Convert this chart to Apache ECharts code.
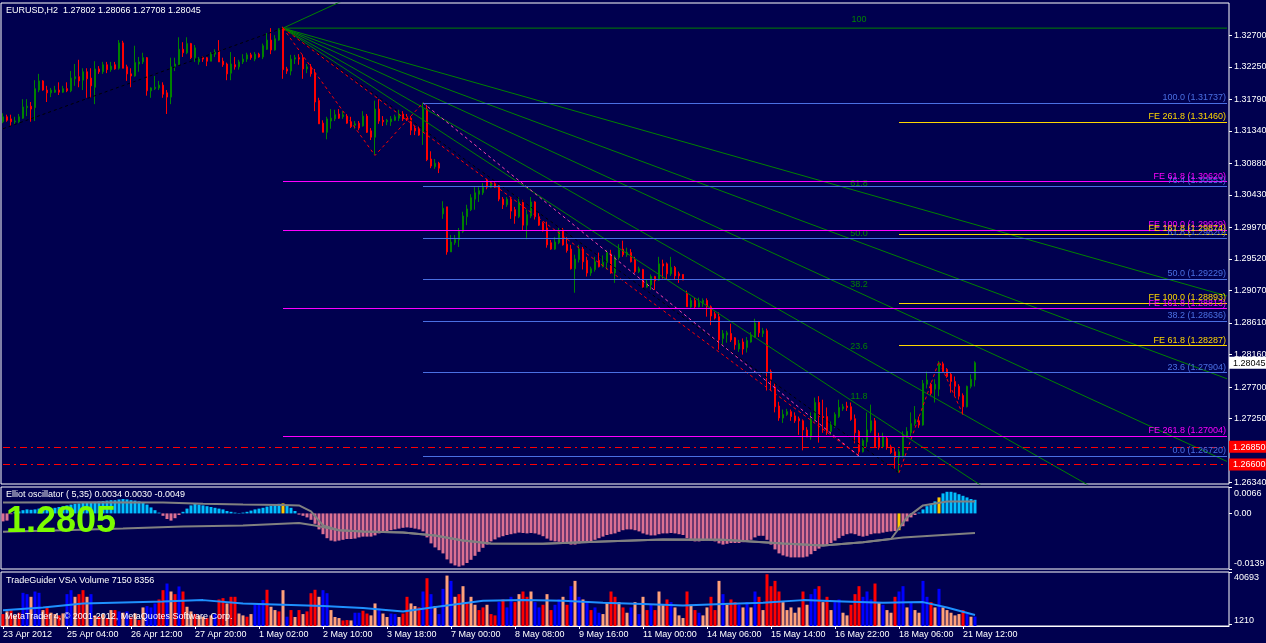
<!DOCTYPE html>
<html><head><meta charset="utf-8">
<script src="https://cdn.jsdelivr.net/npm/echarts@6/dist/echarts.min.js"></script>
<style>html,body{margin:0;padding:0;background:#00004f;}#c{width:1266px;height:643px;}</style>
</head><body><div id="c"></div>
<script>
const dateTicks = ['23 Apr 2012','25 Apr 04:00','26 Apr 12:00','27 Apr 20:00','1 May 02:00','2 May 10:00','3 May 18:00','7 May 00:00','8 May 08:00','9 May 16:00','11 May 00:00','14 May 06:00','15 May 14:00','16 May 22:00','18 May 06:00','21 May 12:00'];
const priceTicks = [1.32700,1.32250,1.31790,1.31340,1.30880,1.30430,1.29970,1.29520,1.29070,1.28610,1.28160,1.27700,1.27250,1.26340];
// [open, close, low, high]
const candles = [
[1.3147,1.3154,1.3145,1.3159],[1.3154,1.3149,1.3147,1.3157],[1.3151,1.3147,1.3141,1.3157],[1.3147,1.3148,1.3144,1.3154],[1.3147,1.3154,1.3145,1.3158],
[1.3152,1.3168,1.3151,1.3179],[1.3167,1.3169,1.3155,1.3179],[1.3169,1.3165,1.3147,1.3175],[1.3167,1.3194,1.3148,1.3206],[1.3192,1.3205,1.3189,1.3215],
[1.3205,1.3192,1.3191,1.3206],[1.3192,1.3188,1.3175,1.3198],[1.3188,1.3192,1.3182,1.3195],[1.3189,1.3192,1.3188,1.3198],[1.3192,1.3189,1.3185,1.3203],
[1.3189,1.3194,1.3188,1.3198],[1.3194,1.3191,1.3189,1.3203],[1.3191,1.3209,1.3189,1.3219],[1.3208,1.3211,1.3198,1.3229],[1.3211,1.3205,1.3196,1.3235],
[1.3206,1.3218,1.3192,1.3223],[1.3218,1.3208,1.3181,1.3223],[1.3209,1.3198,1.3181,1.3223],[1.3196,1.3222,1.3172,1.3233],[1.3222,1.3218,1.3215,1.3226],
[1.3218,1.3228,1.3215,1.3232],[1.3228,1.3221,1.3216,1.3232],[1.3221,1.3226,1.3218,1.3232],[1.3228,1.3222,1.3221,1.3232],[1.3223,1.3259,1.3221,1.3263],
[1.3259,1.3223,1.3223,1.3262],[1.3225,1.3215,1.3205,1.3228],[1.3215,1.3212,1.3196,1.3223],[1.3212,1.3231,1.3211,1.3255],[1.3229,1.3232,1.3218,1.3239],
[1.3232,1.3238,1.3229,1.3245],[1.3238,1.3191,1.3184,1.3239],[1.3191,1.3195,1.3181,1.3196],[1.3194,1.3196,1.3192,1.3212],[1.3195,1.3199,1.3192,1.3205],
[1.3199,1.3186,1.3181,1.3203],[1.3188,1.3182,1.3158,1.3192],[1.3182,1.3225,1.3172,1.3238],[1.3225,1.3229,1.3219,1.3238],[1.3228,1.3250,1.3226,1.3267],
[1.3250,1.3245,1.3239,1.3260],[1.3245,1.3258,1.3243,1.3267],[1.3258,1.3238,1.3236,1.3259],[1.3238,1.3252,1.3232,1.3256],[1.3232,1.3236,1.3228,1.3239],
[1.3238,1.3236,1.3232,1.3240],[1.3238,1.3233,1.3226,1.3239],[1.3233,1.3243,1.3233,1.3246],[1.3243,1.3246,1.3239,1.3250],[1.3248,1.3232,1.3232,1.3263],
[1.3233,1.3228,1.3225,1.3238],[1.3229,1.3215,1.3206,1.3231],[1.3216,1.3229,1.3206,1.3246],[1.3228,1.3225,1.3221,1.3239],[1.3225,1.3232,1.3221,1.3235],
[1.3232,1.3236,1.3229,1.3243],[1.3236,1.3242,1.3232,1.3245],[1.3242,1.3238,1.3235,1.3245],[1.3236,1.3243,1.3233,1.3246],[1.3243,1.3239,1.3238,1.3245],
[1.3239,1.3255,1.3236,1.3258],[1.3250,1.3263,1.3249,1.3273],[1.3263,1.3249,1.3243,1.3280],[1.3249,1.3265,1.3248,1.3270],[1.3263,1.3279,1.3262,1.3280],
[1.3280,1.3221,1.3208,1.3282],[1.3222,1.3219,1.3215,1.3225],[1.3219,1.3236,1.3213,1.3242],[1.3236,1.3238,1.3229,1.3242],[1.3238,1.3236,1.3228,1.3243],
[1.3238,1.3222,1.3208,1.3242],[1.3222,1.3225,1.3216,1.3229],[1.3225,1.3215,1.3211,1.3229],[1.3216,1.3175,1.3162,1.3222],[1.3177,1.3144,1.3144,1.3181],
[1.3145,1.3132,1.3132,1.3149],[1.3132,1.3151,1.3122,1.3154],[1.3148,1.3152,1.3137,1.3165],[1.3151,1.3157,1.3148,1.3164],[1.3158,1.3152,1.3151,1.3165],
[1.3154,1.3157,1.3151,1.3162],[1.3155,1.3145,1.3144,1.3158],[1.3147,1.3140,1.3138,1.3154],[1.3142,1.3144,1.3137,1.3148],[1.3145,1.3138,1.3135,1.3148],
[1.3141,1.3155,1.3140,1.3162],[1.3155,1.3132,1.3131,1.3158],[1.3134,1.3125,1.3121,1.3138],[1.3125,1.3165,1.3100,1.3177],[1.3165,1.3148,1.3144,1.3179],
[1.3149,1.3147,1.3141,1.3155],[1.3147,1.3149,1.3142,1.3151],[1.3147,1.3151,1.3141,1.3155],[1.3149,1.3154,1.3148,1.3157],[1.3152,1.3158,1.3148,1.3164],
[1.3158,1.3151,1.3148,1.3162],[1.3154,1.3151,1.3148,1.3158],[1.3152,1.3135,1.3128,1.3155],[1.3138,1.3134,1.3128,1.3141],[1.3137,1.3128,1.3127,1.3140],
[1.3132,1.3165,1.3114,1.3174],[1.3165,1.3093,1.3091,1.3171],[1.3094,1.3084,1.3081,1.3105],[1.3083,1.3088,1.3080,1.3094],[1.3088,1.3081,1.3074,1.3090],
[1.3016,1.3024,1.3009,1.3034],[1.3026,1.2962,1.2958,1.3026],[1.2962,1.2976,1.2962,1.2986],[1.2975,1.2980,1.2972,1.2986],[1.2979,1.2991,1.2969,1.2996],
[1.2991,1.3013,1.2989,1.3019],[1.3012,1.3023,1.3000,1.3029],[1.3022,1.3039,1.3020,1.3044],[1.3037,1.3046,1.3022,1.3054],[1.3044,1.3049,1.3033,1.3054],
[1.3046,1.3054,1.3043,1.3060],[1.3064,1.3054,1.3051,1.3066],[1.3054,1.3060,1.3053,1.3061],[1.3059,1.3054,1.3053,1.3061],[1.3056,1.3037,1.3034,1.3057],
[1.3037,1.3029,1.3023,1.3040],[1.3029,1.3037,1.3026,1.3040],[1.3037,1.3020,1.3009,1.3040],[1.3022,1.3013,1.3002,1.3026],[1.3012,1.3033,1.3010,1.3040],
[1.3033,1.3000,1.2993,1.3036],[1.3000,1.3015,1.2980,1.3022],[1.3013,1.3033,1.3010,1.3040],[1.3033,1.3012,1.3008,1.3034],[1.3012,1.3000,1.2999,1.3017],
[1.3003,1.2992,1.2991,1.3005],[1.2996,1.2972,1.2968,1.3005],[1.2975,1.2966,1.2965,1.2979],[1.2966,1.2976,1.2965,1.2983],[1.2975,1.2991,1.2973,1.2996],
[1.2993,1.2972,1.2971,1.2996],[1.2973,1.2964,1.2961,1.2983],[1.2966,1.2938,1.2937,1.2972],[1.2938,1.2952,1.2904,1.2958],[1.2951,1.2966,1.2947,1.2972],
[1.2966,1.2948,1.2937,1.2969],[1.2950,1.2932,1.2927,1.2955],[1.2932,1.2938,1.2928,1.2941],[1.2937,1.2948,1.2934,1.2955],[1.2950,1.2941,1.2940,1.2961],
[1.2941,1.2947,1.2940,1.2957],[1.2947,1.2961,1.2937,1.2965],[1.2959,1.2932,1.2931,1.2965],[1.2932,1.2954,1.2918,1.2957],[1.2954,1.2965,1.2951,1.2973],
[1.2966,1.2958,1.2955,1.2978],[1.2958,1.2961,1.2955,1.2968],[1.2961,1.2948,1.2947,1.2966],[1.2951,1.2934,1.2932,1.2955],[1.2934,1.2938,1.2932,1.2941],
[1.2937,1.2912,1.2911,1.2938],[1.2912,1.2917,1.2911,1.2922],[1.2915,1.2927,1.2908,1.2930],[1.2927,1.2921,1.2908,1.2928],[1.2922,1.2945,1.2921,1.2955],
[1.2945,1.2942,1.2924,1.2951],[1.2945,1.2931,1.2922,1.2947],[1.2931,1.2940,1.2928,1.2955],[1.2940,1.2928,1.2922,1.2942],[1.2931,1.2928,1.2918,1.2934],
[1.2930,1.2922,1.2922,1.2930],[1.2903,1.2884,1.2884,1.2907],[1.2884,1.2893,1.2881,1.2897],[1.2893,1.2884,1.2881,1.2897],[1.2884,1.2890,1.2883,1.2897],
[1.2890,1.2893,1.2884,1.2896],[1.2893,1.2884,1.2870,1.2896],[1.2884,1.2871,1.2858,1.2886],[1.2874,1.2868,1.2866,1.2877],[1.2870,1.2837,1.2823,1.2876],
[1.2839,1.2846,1.2830,1.2851],[1.2844,1.2847,1.2833,1.2850],[1.2846,1.2837,1.2834,1.2860],[1.2840,1.2830,1.2823,1.2841],[1.2824,1.2832,1.2820,1.2837],
[1.2834,1.2824,1.2816,1.2839],[1.2826,1.2836,1.2819,1.2841],[1.2834,1.2844,1.2833,1.2848],[1.2841,1.2861,1.2840,1.2867],[1.2863,1.2847,1.2841,1.2864],
[1.2846,1.2850,1.2841,1.2854],[1.2850,1.2792,1.2765,1.2853],[1.2792,1.2781,1.2765,1.2795],[1.2770,1.2742,1.2734,1.2775],[1.2743,1.2726,1.2722,1.2749],
[1.2726,1.2731,1.2719,1.2738],[1.2731,1.2735,1.2729,1.2739],[1.2735,1.2728,1.2722,1.2738],[1.2729,1.2722,1.2719,1.2734],[1.2725,1.2722,1.2702,1.2728],
[1.2722,1.2709,1.2680,1.2724],[1.2709,1.2699,1.2699,1.2713],[1.2699,1.2724,1.2695,1.2734],[1.2724,1.2748,1.2721,1.2755],[1.2748,1.2728,1.2691,1.2757],
[1.2728,1.2726,1.2705,1.2752],[1.2728,1.2707,1.2702,1.2741],[1.2707,1.2716,1.2702,1.2721],[1.2715,1.2731,1.2712,1.2734],[1.2728,1.2741,1.2726,1.2752],
[1.2739,1.2742,1.2736,1.2746],[1.2743,1.2741,1.2736,1.2749],[1.2742,1.2724,1.2722,1.2748],[1.2725,1.2705,1.2690,1.2731],[1.2707,1.2678,1.2674,1.2709],
[1.2678,1.2694,1.2677,1.2697],[1.2692,1.2709,1.2685,1.2734],[1.2708,1.2722,1.2705,1.2745],[1.2722,1.2685,1.2684,1.2726],[1.2698,1.2684,1.2681,1.2705],
[1.2685,1.2699,1.2683,1.2705],[1.2697,1.2685,1.2681,1.2699],[1.2685,1.2677,1.2675,1.2688],[1.2678,1.2670,1.2654,1.2684],[1.2670,1.2678,1.2648,1.2682],
[1.2671,1.2701,1.2670,1.2707],[1.2699,1.2707,1.2698,1.2713],[1.2705,1.2718,1.2699,1.2734],[1.2718,1.2724,1.2715,1.2743],[1.2722,1.2716,1.2712,1.2728],
[1.2716,1.2775,1.2715,1.2780],[1.2774,1.2780,1.2768,1.2792],[1.2774,1.2761,1.2757,1.2776],[1.2767,1.2774,1.2748,1.2781],[1.2767,1.2803,1.2757,1.2807],
[1.2803,1.2792,1.2790,1.2806],[1.2795,1.2785,1.2783,1.2797],[1.2788,1.2778,1.2762,1.2790],[1.2778,1.2771,1.2757,1.2785],[1.2771,1.2757,1.2752,1.2774],
[1.2758,1.2742,1.2731,1.2761],[1.2742,1.2771,1.2741,1.2772],[1.2771,1.2781,1.2768,1.2788],[1.27802,1.28045,1.27708,1.28066]
];
// Fibonacci retracement (blue), drawn from bar 105
const retrLevels = ['100.0','76.4','61.8','50.0','38.2','23.6','0.0'];
const retrPrices = [1.31737,1.30553,1.29820,1.29229,1.28636,1.27904,1.26720];
// Fibonacci expansion 1 (magenta), from bar 70
const fe1Levels = ['61.8','100.0','161.8','261.8'];
const fe1Prices = [1.30620,1.29929,1.28813,1.27004];
// Fibonacci expansion 2 (gold), from bar 224
const fe2Levels = ['261.8','161.8','100.0','61.8'];
const fe2Prices = [1.31460,1.29874,1.28893,1.28287];
// Fibonacci fan (green)
const fanLevels = [161.8,100,61.8,50.0,38.2,23.6,11.8];
const fanLabels = ['161.8','100','61.8','50.0','38.2','23.6','11.8'];
const fanA = [70,1.32800], fanB = [214,1.26720];
// dashed helper lines [barIndex, price]
const blackUp = [[0,1.3137],[70,1.3280]];
const blackDown = [[70,1.3280],[224,1.2648]];
const fanDiag = [[70,1.3280],[214,1.2672]];
const fe1Zig = [[70,1.3280],[93,1.30991],[105,1.31738]];
const retrDiag = [[105,1.31738],[214,1.26720]];
const fe2Zig = [[224,1.2648],[234,1.28066],[240,1.27307]];
const hLines = [1.26850,1.26600];
const lastPrice = 1.28045;

// Elliott oscillator histogram (one value per bar)
const oscValues = [
-0.0020,-0.0018,-0.0002,0.0003,0.0005,0.0008,0.0010,0.0009,0.0010,0.0012,
0.0013,0.0012,0.0012,0.0014,0.0016,0.0018,0.0020,0.0022,0.0024,0.0025,
0.0026,0.0026,0.0027,0.0029,0.0030,0.0031,0.0032,0.0033,0.0033,0.0035,
0.0036,0.0035,0.0033,0.0032,0.0030,0.0027,0.0022,0.0015,0.0008,0.0002,
-0.0006,-0.0014,-0.0018,-0.0012,-0.0004,0.0004,0.0012,0.0020,0.0024,0.0022,
0.0020,0.0018,0.0016,0.0014,0.0012,0.0010,0.0006,0.0004,0.0002,0.0001,
0.0002,0.0004,0.0007,0.0010,0.0012,0.0014,0.0017,0.0019,0.0021,0.0024,
0.0025,0.0020,0.0014,0.0006,-0.0003,-0.0006,-0.0010,-0.0016,-0.0026,-0.0040,
-0.0052,-0.0062,-0.0068,-0.0070,-0.0068,-0.0066,-0.0064,-0.0064,-0.0063,-0.0060,
-0.0058,-0.0058,-0.0058,-0.0055,-0.0050,-0.0046,-0.0044,-0.0042,-0.0040,-0.0038,
-0.0036,-0.0035,-0.0036,-0.0038,-0.0040,-0.0045,-0.0060,-0.0075,-0.0085,-0.0092,
-0.0100,-0.0115,-0.0125,-0.0130,-0.0133,-0.0130,-0.0124,-0.0116,-0.0106,-0.0096,
-0.0086,-0.0078,-0.0070,-0.0065,-0.0060,-0.0057,-0.0054,-0.0052,-0.0050,-0.0048,
-0.0049,-0.0050,-0.0049,-0.0050,-0.0053,-0.0057,-0.0063,-0.0068,-0.0070,-0.0071,
-0.0072,-0.0074,-0.0078,-0.0078,-0.0075,-0.0073,-0.0072,-0.0070,-0.0066,-0.0062,
-0.0058,-0.0054,-0.0052,-0.0050,-0.0046,-0.0042,-0.0040,-0.0040,-0.0042,-0.0045,
-0.0050,-0.0053,-0.0055,-0.0055,-0.0052,-0.0050,-0.0050,-0.0049,-0.0050,-0.0052,
-0.0054,-0.0062,-0.0068,-0.0070,-0.0070,-0.0068,-0.0067,-0.0068,-0.0070,-0.0075,
-0.0078,-0.0076,-0.0074,-0.0074,-0.0074,-0.0072,-0.0070,-0.0066,-0.0060,-0.0056,
-0.0056,-0.0066,-0.0078,-0.0090,-0.0100,-0.0105,-0.0108,-0.0110,-0.0110,-0.0110,
-0.0110,-0.0108,-0.0102,-0.0094,-0.0088,-0.0082,-0.0078,-0.0074,-0.0068,-0.0062,
-0.0056,-0.0052,-0.0050,-0.0052,-0.0056,-0.0058,-0.0056,-0.0052,-0.0050,-0.0050,
-0.0048,-0.0046,-0.0045,-0.0044,-0.0042,-0.0032,-0.0020,-0.0010,-0.0004,0.0002,
0.0010,0.0018,0.0024,0.0030,0.0040,0.0050,0.0054,0.0054,0.0052,0.0048,
0.0044,0.0040,0.0036,0.0034
];
const oscMarkBars = [70,224,234];
// oscillator signal lines, [barIndex, value]
const oscUpper = [[0,0.0027],[20,0.0028],[40,0.0027],[50,0.0024],[60,0.0022],[70,0.0021],[74,0.0020],[77,0.0005],[80,-0.0030],[84,-0.0042],[90,-0.0045],[100,-0.0048],[108,-0.0055],[115,-0.0068],[122,-0.0075],[135,-0.0076],[150,-0.0070],[165,-0.0065],[180,-0.0066],[195,-0.0075],[205,-0.0080],[215,-0.0072],[222,-0.0064],[226,-0.0010],[230,0.0020],[236,0.0030],[243,0.0030]];
const oscLower = [[0,-0.0046],[15,-0.0042],[30,-0.0038],[45,-0.0033],[60,-0.0030],[74,-0.0024],[78,-0.0030],[84,-0.0042],[90,-0.0045],[100,-0.0048],[108,-0.0055],[115,-0.0068],[122,-0.0075],[135,-0.0076],[150,-0.0070],[165,-0.0065],[180,-0.0066],[195,-0.0075],[205,-0.0080],[215,-0.0072],[225,-0.0060],[235,-0.0054],[243,-0.0049]];

// VSA volume: value per bar and colour code (b=up/blue, r=down/red, s=salmon)
const volValues = [
9000,11000,12000,8000,10000,25000,24000,22000,26000,25000,
12000,14500,10000,9000,8000,9500,24000,27000,22000,24000,
27000,22000,24000,8000,7000,9000,6000,12000,12000,11000,
10000,11000,6500,9500,4500,14000,15000,14000,17000,20000,
27000,32000,26000,24000,29800,26000,14500,11000,9000,8000,
7000,6000,8000,9000,20000,21000,17000,22000,22000,9400,
8000,7000,9000,16000,17000,19600,27300,14500,12000,11000,
27000,7000,12000,6800,12000,9000,11000,24700,27300,22000,
27000,24700,12000,6800,6000,4200,4500,4200,10000,10000,
11500,9400,8000,17000,13000,9400,6800,9400,9000,6800,
9400,22000,17000,15000,14000,26000,36000,24000,15000,9000,
28000,38000,34000,22000,24000,30000,18000,22000,16000,12000,
14000,16000,9000,8000,18000,20000,14000,22000,18000,24000,
26000,22000,26000,18000,14000,16000,24000,12000,16000,20000,
22000,16000,30000,34000,22000,20000,18000,12000,14000,10000,
9000,18000,26000,22000,18000,14000,10000,14000,18000,9000,
22000,12000,16000,12000,26000,16000,20000,18000,14000,8000,
6000,26000,16000,12000,10000,8000,14000,22000,12000,34000,
24000,16000,20000,18000,16000,14000,18000,14000,26000,22000,
12000,39000,30000,34000,26000,18000,12000,14000,10000,14000,
26000,16000,24000,28000,30000,18000,22000,12000,18000,20000,
10000,8000,16000,24000,30000,22000,26000,20000,32000,18000,
16000,12000,10000,22000,26000,30000,14000,18000,12000,10000,
34000,22000,18000,14000,28000,14000,12000,10000,8000,9000,
12000,9000,7000,7150
];
const volColors = 'rsrsr'+'bbsbb'+'srssr'+'sbbsr'+'rsbsr'+'srsrb'+'sbrsr'+'sbbbr'+'rbsrb'+'rssrs'+
'srsbr'+'rsrrs'+'srsbb'+'brssr'+'sbrsr'+'srrrs'+'bbsss'+'rrsbb'+'rrssb'+'ssbbs'+
'rrssr'+'brbsb'+'bsbsr'+'srssr'+'rsrrb'+'rbbrs'+'rrsbb'+'rsrbb'+'srbsb'+'sbrbb'+
'ssrrs'+'rsbsb'+'srbrs'+'srbss'+'srsrb'+'ssrrs'+'bsrrb'+'sbsbr'+'srrrr'+'sssss'+
'rsbbr'+'srsbb'+'ssrrr'+'bbbrs'+'bssrb'+'bsbss'+'bbrsb'+'sssss'+'rbsb';
const volMA = [[0,11900],[10,14000],[20,17000],[40,18500],[50,19500],[60,17000],[70,16000],[80,15000],[90,13500],[100,11000],[110,15000],[120,19000],[130,19500],[140,19000],[150,17500],[160,16500],[170,15500],[180,16500],[190,17500],[200,19500],[210,18500],[220,17500],[230,18000],[236,14000],[243,8356]];

const NCAT = 307;
const cats = Array.from({length:NCAT},(_,i)=>String(i));
const FONT = 'Liberation Sans';
const BLUE='#4a6fe3', MAG='#ff00ff', GOLD='#ffd700', GRN='#008200';
const VCOL = {b:'#0000ff', r:'#ff0000', s:'#ffa07a'};

const ml = [];
retrPrices.forEach((p,k)=>ml.push([{coord:[105,p],lineStyle:{color:BLUE},label:{show:true,formatter:retrLevels[k]+' ('+p.toFixed(5)+')',color:BLUE}},{coord:[NCAT-1,p]}]));
fe1Prices.forEach((p,k)=>ml.push([{coord:[70,p],lineStyle:{color:MAG},label:{show:true,formatter:'FE '+fe1Levels[k]+' ('+p.toFixed(5)+')',color:MAG}},{coord:[NCAT-1,p]}]));
fe2Prices.forEach((p,k)=>ml.push([{coord:[224,p],lineStyle:{color:GOLD},label:{show:true,formatter:'FE '+fe2Levels[k]+' ('+p.toFixed(5)+')',color:GOLD}},{coord:[NCAT-1,p]}]));
hLines.forEach(p=>ml.push([{coord:[0,p],lineStyle:{color:'#ff0000',type:[7,4,2,4]},label:{show:false}},{coord:[NCAT-1,p]}]));

const series = [{
  type:'candlestick', xAxisIndex:0, yAxisIndex:0, data:candles, barWidth:2, z:2,
  itemStyle:{color:GRN,color0:'#ff0000',borderColor:GRN,borderColor0:'#ff0000',borderWidth:1},
  markLine:{symbol:['none','none'],silent:true,animation:false,lineStyle:{width:1,type:'solid'},
    label:{position:'insideEndTop',distance:1,fontSize:9,fontFamily:FONT},data:ml}
}];
fanLevels.forEach((L,k)=>{
  const pL = fanB[1] + L/100*(fanA[1]-fanB[1]);
  const slope = (pL-fanA[1])/(fanB[0]-fanA[0]);
  series.push({type:'line',xAxisIndex:0,yAxisIndex:0,z:3,silent:true,symbol:'circle',symbolSize:0,showSymbol:true,
    lineStyle:{color:GRN,width:1},itemStyle:{color:GRN},
    data:[[fanA[0],fanA[1]],{value:[fanB[0],pL],label:{show:true,formatter:fanLabels[k],position:'top',distance:4,color:GRN,fontSize:9,fontFamily:FONT}},[NCAT-1,fanA[1]+slope*(NCAT-1-fanA[0])]]});
});
[[blackUp,'#000000'],[blackDown,'#000000'],[fanDiag,'#ff0000'],[fe1Zig,'#ff0000'],[retrDiag,'#ff40b0'],[fe2Zig,'#ff0000']].forEach(([d,c])=>{
  series.push({type:'line',xAxisIndex:0,yAxisIndex:0,z:3,silent:true,symbol:'none',data:d,lineStyle:{color:c,width:1,type:[3,3]}});
});
// oscillator
series.push({type:'bar',xAxisIndex:1,yAxisIndex:2,data:oscValues,barWidth:3,silent:true,
  itemStyle:{color:p=>oscMarkBars.indexOf(p.dataIndex)>=0?'#ffc800':(p.value>=0?'#00bfff':'#db7093')}});
series.push({type:'line',xAxisIndex:1,yAxisIndex:2,data:oscLower,symbol:'none',silent:true,z:4,lineStyle:{color:'#808080',width:2}});
series.push({type:'line',xAxisIndex:1,yAxisIndex:2,data:oscUpper,symbol:'none',silent:true,z:4,lineStyle:{color:'#808080',width:2}});
// volume
series.push({type:'bar',xAxisIndex:2,yAxisIndex:3,data:volValues,barWidth:3,silent:true,
  itemStyle:{color:p=>VCOL[volColors[p.dataIndex]]||'#ffa07a'}});
series.push({type:'line',xAxisIndex:2,yAxisIndex:3,data:volMA,symbol:'none',silent:true,z:4,lineStyle:{color:'#1e90ff',width:2}});

const chart = echarts.init(document.getElementById('c'),null,{renderer:'canvas'});
const xBase = g => ({type:'category',gridIndex:g,data:cats,boundaryGap:true,show:g===2,
  axisLine:{show:true,lineStyle:{color:'#fff'}},
  axisTick:{show:true,alignWithLabel:true,length:3,lineStyle:{color:'#fff'},interval:(i)=>i%16===0&&i/16<dateTicks.length},
  axisLabel:{show:true,interval:(i)=>i%16===0&&i/16<dateTicks.length,formatter:(v,i)=>dateTicks[i/16]||'',align:'left',color:'#fff',fontSize:9,fontFamily:FONT,margin:4},
  splitLine:{show:false}});
chart.setOption({
  backgroundColor:'#00004f',
  animation:false,
  textStyle:{fontFamily:FONT},
  grid:[
    {left:1,top:3,width:1228,height:481,show:true,borderColor:'#fff',borderWidth:1,outerBoundsMode:'none',containLabel:false},
    {left:1,top:487,width:1228,height:82,show:true,borderColor:'#fff',borderWidth:1,outerBoundsMode:'none',containLabel:false},
    {left:1,top:572,width:1228,height:54,show:true,borderColor:'#fff',borderWidth:1,outerBoundsMode:'none',containLabel:false}
  ],
  xAxis:[xBase(0),xBase(1),xBase(2)],
  yAxis:[
    {type:'value',gridIndex:0,position:'right',min:1.26322,max:1.33157,axisLine:{show:false},splitLine:{show:false},
      axisTick:{show:true,length:3,lineStyle:{color:'#fff'},customValues:priceTicks},
      axisLabel:{customValues:priceTicks,formatter:v=>v.toFixed(5),color:'#fff',fontSize:9,margin:5}},
    {type:'value',gridIndex:0,position:'right',min:1.26322,max:1.33157,axisLine:{show:false},splitLine:{show:false},axisTick:{show:false},
      axisLabel:{customValues:[lastPrice].concat(hLines),margin:0,fontSize:9,
        formatter:v=>(Math.abs(v-lastPrice)<1e-7?'{w|':'{r|')+v.toFixed(5)+'}',
        rich:{w:{backgroundColor:'#fff',color:'#000',padding:[2,5,1,4],fontSize:9},r:{backgroundColor:'#ff0000',color:'#fff',padding:[2,5,1,4],fontSize:9}}}},
    {type:'value',gridIndex:1,position:'right',min:-0.0139,max:0.0066,axisLine:{show:false},splitLine:{show:false},
      axisTick:{show:true,length:3,lineStyle:{color:'#fff'},customValues:[0.0066,0,-0.0139]},
      axisLabel:{customValues:[0.0066,0,-0.0139],color:'#fff',fontSize:9,margin:5,
        formatter:v=>v>0?'{t|0.0066}':(v<0?'{b|-0.0139}':'0.00'),rich:{t:{padding:[14,0,0,0],color:'#fff',fontSize:9},b:{padding:[0,0,10,0],color:'#fff',fontSize:9}}}},
    {type:'value',gridIndex:2,position:'right',min:0,max:40693,axisLine:{show:false},splitLine:{show:false},
      axisTick:{show:true,length:3,lineStyle:{color:'#fff'},customValues:[40693,1210]},
      axisLabel:{customValues:[40693,1210],color:'#fff',fontSize:9,margin:5,
        formatter:v=>v>2000?'{t|40693}':'{b|1210}',rich:{t:{padding:[12,0,0,0],color:'#fff',fontSize:9},b:{padding:[0,0,8,0],color:'#fff',fontSize:9}}}}
  ],
  graphic:[
    {type:'text',z:100,style:{text:'EURUSD,H2  1.27802 1.28066 1.27708 1.28045',x:6,y:11,verticalAlign:'middle',fill:'#fff',font:'9px "Liberation Sans"'}},
    {type:'text',z:100,style:{text:'Elliot oscillator ( 5,35) 0.0034 0.0030 -0.0049',x:6,y:495,verticalAlign:'middle',fill:'#fff',font:'9px "Liberation Sans"'}},
    {type:'text',z:100,style:{text:'1.2805',x:6,y:522,verticalAlign:'middle',fill:'#7cfc00',font:'bold 36px "Liberation Sans"'}},
    {type:'text',z:100,style:{text:'TradeGuider VSA Volume 7150 8356',x:6,y:581,verticalAlign:'middle',fill:'#fff',font:'9px "Liberation Sans"'}},
    {type:'text',z:100,style:{text:'MetaTrader 4, © 2001-2012, MetaQuotes Software Corp.',x:5,y:617,verticalAlign:'middle',fill:'#fff',font:'9px "Liberation Sans"'}}
  ],
  series:series
});
</script></body></html>
